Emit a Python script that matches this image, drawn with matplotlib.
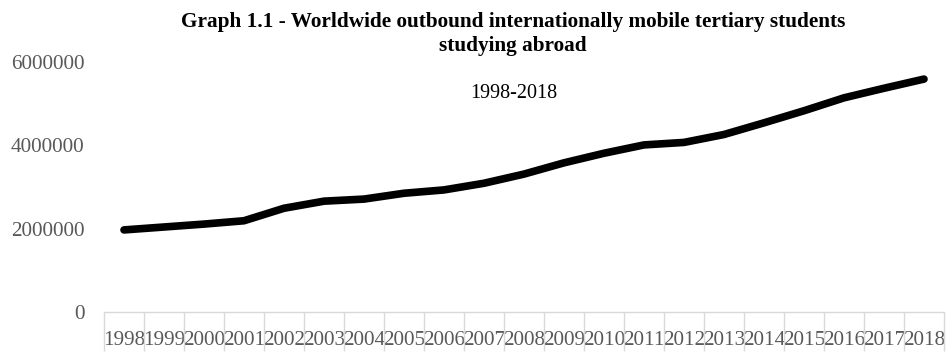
import numpy as np
import matplotlib.pyplot as plt
from matplotlib.ticker import FixedLocator

# outbound internationally mobile tertiary students
years = [1998, 1999, 2000, 2001, 2002, 2003, 2004, 2005, 2006, 2007, 2008,
         2009, 2010, 2011, 2012, 2013, 2014, 2015, 2016, 2017, 2018]
students = [1970000, 2040000, 2110000, 2190000, 2490000, 2660000, 2710000,
            2850000, 2930000, 3090000, 3310000, 3580000, 3810000, 4010000,
            4070000, 4260000, 4540000, 4830000, 5140000, 5370000, 5590000]
y_ticks = [0, 2000000, 4000000, 6000000]

plt.rcParams['font.family'] = ['Liberation Serif', 'DejaVu Serif']

fig = plt.figure(figsize=(9.48, 3.52), dpi=100)
ax = fig.add_axes([104 / 948, 40 / 352, 840 / 948, 250 / 352])

x = np.arange(len(years))
ax.plot(x, students, color='black', linewidth=5.5, solid_capstyle='round',
        solid_joinstyle='round')

ax.set_xlim(-0.5, len(years) - 0.5)
ax.set_ylim(0, 6000000)

ax.set_xticks(x)
ax.set_xticklabels([str(y) for y in years])
ax.xaxis.set_minor_locator(FixedLocator(np.arange(len(years) + 1) - 0.5))
ax.tick_params(axis='x', which='major', length=0, pad=14,
               labelsize=15.3, labelcolor='#595959')
ax.tick_params(axis='x', which='minor', length=28, width=1, color='#d9d9d9')

ax.set_yticks(y_ticks)
ax.set_yticklabels([str(v) for v in y_ticks])
ax.tick_params(axis='y', length=0, pad=14, labelsize=15.3, labelcolor='#595959')

for side in ['top', 'right', 'left']:
    ax.spines[side].set_visible(False)
ax.spines['bottom'].set_color('#d9d9d9')
ax.spines['bottom'].set_linewidth(1)

fig.text(513 / 948, 1 - 34 / 352,
         'Graph 1.1 - Worldwide outbound internationally mobile tertiary students\nstudying abroad',
         ha='center', va='center', fontsize=15.3, fontweight='bold',
         linespacing=1.22)
fig.text(514 / 948, 1 - 93 / 352, '1998-2018', ha='center', va='center',
         fontsize=14.5, color='black')

fig.savefig('out.png', dpi=100)
